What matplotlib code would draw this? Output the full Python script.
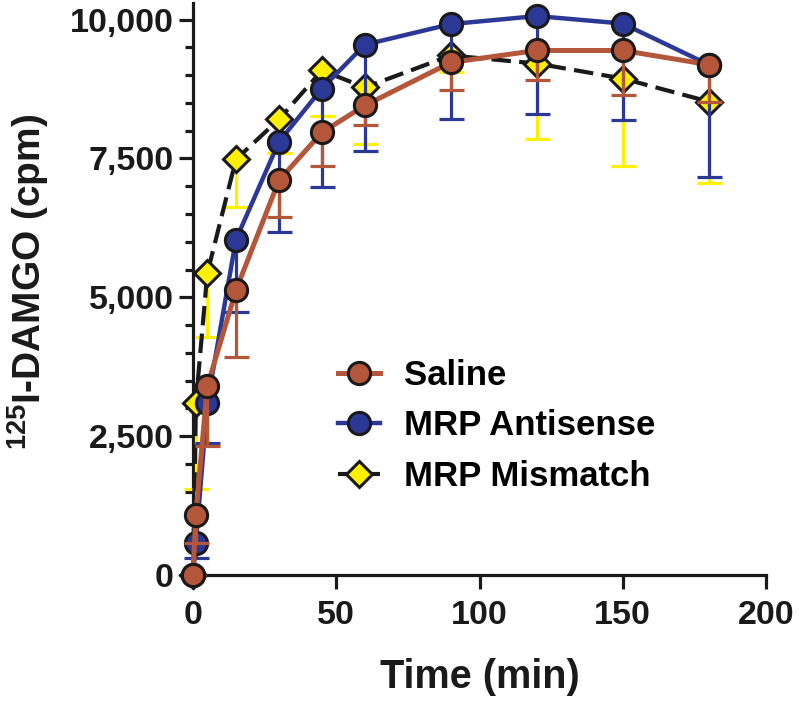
import matplotlib
matplotlib.use('Agg')
import matplotlib.pyplot as plt
import numpy as np

# data
time_min = [0, 1, 5, 15, 30, 45, 60, 90, 120, 150, 180]

saline_mean = [0, 1080, 3400, 5130, 7105, 7970, 8455, 9230, 9445, 9445, 9190]
saline_sem = [0, 500, 1070, 1210, 665, 610, 345, 500, 525, 810, 680]

antisense_mean = [0, 575, 3095, 6040, 7800, 8760, 9550, 9920, 10065, 9930, 9190]
antisense_sem = [0, 270, 720, 1310, 1630, 1780, 1920, 1700, 1770, 1745, 2030]

mismatch_mean = [0, 3095, 5435, 7485, 8205, 9085, 8780, 9355, 9210, 8940, 8525]
mismatch_sem = [0, 1545, 1155, 865, 615, 825, 1010, 300, 1350, 1580, 1475]

series_names = ['Saline', 'MRP Antisense', 'MRP Mismatch']

plt.rcParams['font.family'] = 'Liberation Sans'
plt.rcParams['font.weight'] = 'bold'
plt.rcParams['mathtext.fontset'] = 'custom'
plt.rcParams['mathtext.rm'] = 'Liberation Sans'
plt.rcParams['mathtext.default'] = 'regular'
plt.rcParams['lines.scale_dashes'] = False

brown = '#B4563A'
blue = '#2B3896'
yellow = '#FFF000'
edge = '#1a1a1a'

fig = plt.figure(figsize=(8, 7.03), dpi=100)
ax = fig.add_axes([193 / 800, 128 / 703, 573 / 800, 572 / 703])

t = np.array(time_min)


def draw_series(mean, sem, line_color, err_color, marker, ms, z, label, ls='-', lw=3.4):
    mean = np.array(mean)
    low = mean - np.array(sem)
    # one-sided (downward) error bars
    ax.vlines(t, low, mean, colors=err_color, linewidth=2.3, zorder=z)
    ax.plot(t, low, ls='none', marker='_', ms=18, mew=2.3, color=err_color,
            zorder=z, clip_on=False)
    ln, = ax.plot(t, mean, color=line_color, lw=lw, ls=ls, marker=marker, ms=ms,
                  mfc=err_color, mec=edge, mew=2.2, zorder=z + 0.5,
                  clip_on=False, label=label)
    if ls == '--':
        ln.set_dashes((14, 6))
    return ln


h3 = draw_series(mismatch_mean, mismatch_sem, edge, yellow, 'D', 13, 3,
                 series_names[2], ls='--', lw=3.0)
h2 = draw_series(antisense_mean, antisense_sem, blue, blue, 'o', 16, 4,
                 series_names[1], lw=3.2)
h1 = draw_series(saline_mean, saline_sem, brown, brown, 'o', 16, 5,
                 series_names[0], lw=3.6)

ax.set_xlim(0, 200)
ax.set_ylim(0, 10300)
ax.set_xticks([0, 50, 100, 150, 200])
ax.set_yticks([0, 2500, 5000, 7500, 10000])
ax.set_yticklabels(['0', '2,500', '5,000', '7,500', '10,000'])
ax.set_yticks(np.arange(0, 10001, 500), minor=True)

for s in ['top', 'right']:
    ax.spines[s].set_visible(False)
for s in ['left', 'bottom']:
    ax.spines[s].set_linewidth(2.3)
    ax.spines[s].set_color(edge)

ax.tick_params(axis='both', which='major', labelsize=24.5, width=2.3,
               length=10, color=edge, labelcolor=edge, pad=4)
ax.tick_params(axis='x', which='major', pad=8)
ax.tick_params(axis='y', which='minor', width=2.3, length=6, color=edge)

ax.set_xlabel('Time (min)', fontsize=28.5, fontweight='bold', color=edge)
ax.xaxis.set_label_coords(0.5, -0.145)
ax.set_ylabel(r'$^{125}$I-DAMGO (cpm)', fontsize=28, fontweight='bold', color=edge)
ax.yaxis.set_label_coords(-0.248, 0.512)

ax.legend(handles=[h1, h2, h3], loc='upper left',
          bbox_to_anchor=(338 / 800, 1 - 359 / 703), bbox_transform=fig.transFigure,
          frameon=False, fontsize=25, handlelength=1.2, handletextpad=0.7,
          labelspacing=0.5, borderpad=0, borderaxespad=0)

fig.savefig('out.png', dpi=100)
